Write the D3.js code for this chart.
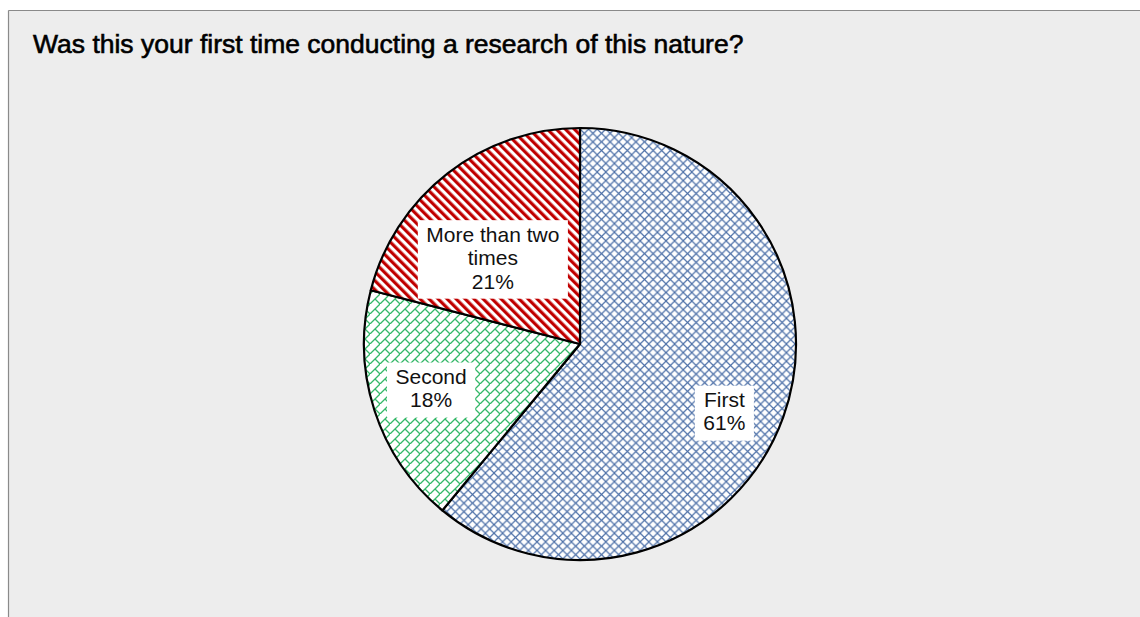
<!DOCTYPE html>
<html>
<head>
<meta charset="utf-8">
<script src="https://cdn.jsdelivr.net/npm/d3@7"></script>
<style>
  html, body { margin: 0; padding: 0; background: #ffffff; }
  svg { display: block; font-family: "Liberation Sans", Arial, sans-serif; }
</style>
</head>
<body>
<svg id="chart" width="1140" height="617"></svg>
<script>
// Survey answers: share of respondents (percent)
const categories = ["First", "Second", "More than two times"];
const labelLines = [["First"], ["Second"], ["More than two", "times"]];
const shares = [61, 18, 21];
const title = "Was this your first time conducting a research of this nature?";

// label placement along each slice's bisector (fraction of radius) plus small nudges
const labelRadius = [0.74, 0.72, 0.56];
const labelNudge = [[-6, 14], [-1, -3], [-13, 10]];

const W = 1140, H = 617;
const svg = d3.select("#chart");

// chart area with a thin grey frame on top and left
svg.append("rect").attr("x", 8).attr("y", 10).attr("width", W).attr("height", H)
  .attr("fill", "#ededed");
svg.append("line").attr("x1", 8.5).attr("x2", W).attr("y1", 10.5).attr("y2", 10.5)
  .attr("stroke", "#8a8a8a").attr("stroke-width", 1.2);
svg.append("line").attr("x1", 8.5).attr("x2", 8.5).attr("y1", 10.5).attr("y2", H)
  .attr("stroke", "#8a8a8a").attr("stroke-width", 1.2);

svg.append("text").attr("x", 33).attr("y", 53)
  .attr("font-size", 26.5).attr("fill", "#000")
  .attr("stroke", "#000").attr("stroke-width", 0.6)
  .text(title);

// hatch fills
const defs = svg.append("defs");

const gs = 8.6;
const grid = defs.append("pattern").attr("id", "hatch-grid")
  .attr("patternUnits", "userSpaceOnUse").attr("width", gs).attr("height", gs);
grid.append("rect").attr("width", gs).attr("height", gs).attr("fill", "#fff");
grid.append("path")
  .attr("d", `M-1,-1L${gs + 1},${gs + 1}M-1,${gs + 1}L${gs + 1},-1`)
  .attr("stroke", "#4d70a8").attr("stroke-width", 1.2).attr("fill", "none");

const bs = 10;
const brick = defs.append("pattern").attr("id", "hatch-brick")
  .attr("patternUnits", "userSpaceOnUse").attr("width", bs).attr("height", bs);
brick.append("rect").attr("width", bs).attr("height", bs).attr("fill", "#fff");
brick.append("path").attr("d", `M-1,${bs + 1}L${bs + 1},-1M${bs / 2},${bs / 2}L${bs},${bs}`)
  .attr("stroke", "#34b868").attr("stroke-width", 1.3).attr("fill", "none");

const sp = 9 / Math.SQRT2;
const stripe = defs.append("pattern").attr("id", "hatch-stripe")
  .attr("patternUnits", "userSpaceOnUse").attr("width", sp).attr("height", sp)
  .attr("patternTransform", "rotate(-45)");
stripe.append("rect").attr("width", sp).attr("height", sp).attr("fill", "#fff");
stripe.append("rect").attr("width", sp / 2).attr("height", sp).attr("fill", "#c00000");

const fills = d3.scaleOrdinal().domain(categories)
  .range(["url(#hatch-grid)", "url(#hatch-brick)", "url(#hatch-stripe)"]);

const cx = 580, cy = 344, R = 216;
const data = categories.map((c, i) => ({ cat: c, value: shares[i], i }));
const pie = d3.pie().value(d => d.value).sort(null);
const arcs = pie(data);
const arc = d3.arc().innerRadius(0).outerRadius(R);

const g = svg.append("g").attr("transform", `translate(${cx},${cy})`);
g.selectAll("path.slice").data(arcs).join("path")
  .attr("class", "slice")
  .attr("d", arc)
  .attr("fill", d => fills(d.data.cat))
  .attr("stroke", "#000").attr("stroke-width", 2.2).attr("stroke-linejoin", "round");

// data labels on white boxes
const fs = 21, lh = 23.5;
arcs.forEach((d, i) => {
  const rr = labelRadius[i] * R;
  const [px, py] = d3.arc().innerRadius(rr).outerRadius(rr).centroid(d);
  const x = px + labelNudge[i][0], y = py + labelNudge[i][1];
  const lines = labelLines[i].concat([d3.format(".0%")(d.data.value / 100)]);
  const lg = g.append("g").attr("transform", `translate(${x},${y})`);
  const t = lg.append("text").attr("text-anchor", "middle")
    .attr("font-size", fs).attr("fill", "#111");
  const top = -(lines.length * lh) / 2;
  lines.forEach((s, k) => {
    t.append("tspan").attr("x", 0).attr("y", top + k * lh + lh * 0.78).text(s);
  });
  const bb = t.node().getBBox();
  lg.insert("rect", "text")
    .attr("x", bb.x - 8.5).attr("y", top - 3)
    .attr("width", bb.width + 17).attr("height", lines.length * lh + 8)
    .attr("fill", "#fff");
});
</script>
</body>
</html>
